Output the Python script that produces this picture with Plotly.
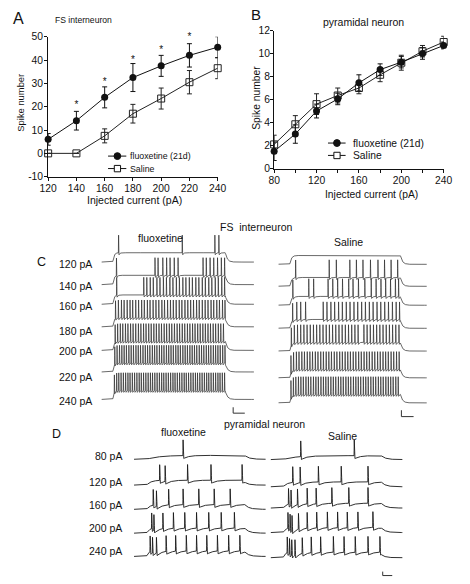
import numpy as np
import plotly.graph_objects as go

# ---------------- data: panel A (FS interneuron) ----------------
a_current = [120, 140, 160, 180, 200, 220, 240]
a_fluox = [6.0, 14.0, 24.0, 32.5, 37.5, 42.0, 45.5]
a_fluox_err = [2.5, 4.0, 4.5, 6.0, 4.5, 5.0, 4.5]
a_saline = [0.0, 0.0, 7.5, 17.0, 23.5, 30.5, 36.5]
a_saline_err = [0.0, 0.0, 3.0, 4.0, 4.5, 5.0, 4.5]
a_star_x = [140, 160, 180, 200, 220]
a_star_y = [20.6, 30.2, 40.0, 44.2, 49.6]

# ---------------- data: panel B (pyramidal neuron) ----------------
b_current = [80, 100, 120, 140, 160, 180, 200, 220, 240]
b_fluox = [1.5, 3.0, 5.0, 6.05, 7.45, 8.6, 9.25, 10.0, 10.7]
b_fluox_err = [0.8, 0.8, 0.6, 0.5, 0.7, 0.5, 0.5, 0.5, 0.3]
b_saline = [2.1, 3.85, 5.6, 6.35, 7.0, 8.15, 9.2, 10.2, 11.0]
b_saline_err = [0.8, 0.75, 0.9, 0.65, 0.5, 0.6, 0.65, 0.5, 0.5]

# ---------------- data: panel C spike times (ms) ----------------
c_labels = ["120 pA", "140 pA", "160 pA", "180 pA", "200 pA", "220 pA", "240 pA"]
c_fluox_spikes = [
    [90, 424, 595, 616],
    [79, 281, 297, 322, 342, 360, 382, 402, 533, 550, 570, 589, 609, 629, 646],
    [80, 222, 238, 256, 272, 291, 307, 325, 341, 359, 375, 393, 409, 427, 443, 461, 477, 495,
     511, 529, 545, 563, 579, 597, 613, 631, 646],
    [74, 89, 105, 119, 135, 150, 164, 180, 195, 211, 225, 241, 255, 271, 286, 301, 317, 331, 347,
     362, 377, 392, 408, 422, 438, 453, 468, 483, 499, 513, 529, 544, 559, 575, 589, 605, 619, 635, 648],
    [72, 85, 99, 112, 126, 139, 153, 166, 180, 194, 207, 221, 234, 248, 261, 275, 288, 302, 315, 329,
     342, 356, 369, 383, 397, 410, 424, 437, 451, 464, 478, 491, 505, 518, 532, 545, 559, 572, 586, 599,
     613, 626, 640],
    [70, 82, 95, 107, 119, 131, 144, 156, 168, 181, 193, 205, 218, 230, 242, 254, 267, 279, 291, 304,
     316, 328, 341, 353, 365, 377, 390, 402, 414, 427, 439, 451, 464, 476, 488, 500, 513, 525, 537, 550,
     562, 574, 587, 599, 611, 623, 636, 648],
    [68, 80, 91, 103, 115, 127, 139, 150, 162, 174, 186, 198, 209, 221, 233, 245, 257, 268, 280, 292,
     304, 316, 327, 339, 351, 363, 375, 386, 398, 410, 422, 434, 445, 457, 469, 481, 493, 504, 516, 528,
     540, 552, 563, 575, 587, 599, 611, 622, 634, 646],
]
c_saline_spikes = [
    [],
    [91, 270, 308, 380, 415, 450, 490, 530, 565, 600, 635],
    [76, 161, 187, 264, 289, 315, 341, 374, 397, 426, 460, 494, 520, 546, 571, 597, 623, 640],
    [75, 97, 118, 144, 238, 258, 279, 299, 320, 340, 361, 381, 402, 422, 443, 463, 484, 504, 525, 545,
     566, 586, 607, 627, 645],
    [68, 84, 101, 118, 135, 152, 169, 186, 203, 220, 237, 254, 271, 288, 305, 322, 339, 356, 373, 390,
     407, 424, 455, 472, 489, 506, 523, 540, 557, 574, 591, 608, 625, 642],
    [66, 80, 95, 109, 124, 138, 153, 167, 181, 196, 210, 225, 239, 254, 268, 282, 297, 311, 326, 340,
     355, 369, 383, 398, 412, 427, 441, 456, 470, 484, 499, 513, 528, 542, 557, 571, 585, 600, 614, 629, 643],
    [66, 79, 92, 106, 119, 132, 146, 159, 172, 186, 199, 212, 226, 239, 252, 265, 279, 292, 305, 319,
     332, 345, 359, 372, 385, 399, 412, 425, 438, 452, 465, 478, 492, 505, 518, 532, 545, 558, 572, 585,
     598, 611, 625, 638],
]

# ---------------- data: panel D spike times (ms) ----------------
d_labels = ["80 pA", "120 pA", "160 pA", "200 pA", "240 pA"]
d_fluox_spikes = [
    [350],
    [183, 222, 382, 549, 771],
    [137, 160, 247, 350, 462, 572, 686],
    [126, 142, 206, 281, 362, 446, 533, 622, 716],
    [115, 132, 160, 229, 297, 373, 446, 519, 595, 675, 755],
]
d_saline_spikes = [
    [215, 597],
    [158, 211, 341, 504, 695],
    [128, 146, 192, 261, 325, 437, 558, 695],
    [124, 139, 153, 199, 261, 329, 405, 478, 547, 623, 730],
    [119, 135, 151, 174, 226, 290, 357, 448, 524, 604, 695, 780],
]

W, H = 470, 584


def px(x):
    return x / W


def py(y):
    return 1 - y / H


def make_trace(spikes, t0, t1, on, off, plateau, tau_on, tau_off, amp, rise, fall, ahp, tau_ahp, dt):
    extra = []
    for s in spikes:
        extra += [s - rise, s, s + fall]
    t = np.unique(np.concatenate([np.arange(t0, t1 + dt, dt), np.array(extra, dtype=float)]))
    t = t[(t >= t0) & (t <= t1)]
    v = np.zeros_like(t)
    m = (t >= on) & (t < off)
    v[m] = plateau * (1 - np.exp(-(t[m] - on) / tau_on))
    v_off = plateau * (1 - np.exp(-(off - on) / tau_on))
    m2 = t >= off
    v[m2] = v_off * np.exp(-(t[m2] - off) / tau_off)
    for s in spikes:
        d = t - s
        r = (d > -rise) & (d <= 0)
        v[r] += amp * (1 + d[r] / rise)
        f = (d > 0) & (d <= fall)
        v[f] += amp - (amp + ahp) * (d[f] / fall)
        a = d > fall
        v[a] += -ahp * np.exp(-(d[a] - fall) / tau_ahp)
    return t, v


fig = go.Figure()

# ---------------- panel A ----------------
fig.add_trace(go.Scatter(
    x=a_current, y=a_saline, mode="lines+markers", xaxis="x", yaxis="y",
    line=dict(color="#222", width=1),
    marker=dict(symbol="square-open", size=7, color="#222", line=dict(width=1)),
    error_y=dict(type="data", array=a_saline_err, color="#222", thickness=1, width=2.5),
    cliponaxis=False, showlegend=False))
fig.add_trace(go.Scatter(
    x=a_current, y=a_fluox, mode="lines+markers", xaxis="x", yaxis="y",
    line=dict(color="#111", width=1),
    marker=dict(symbol="circle", size=7, color="#111"),
    error_y=dict(type="data", array=a_fluox_err, color="#111", thickness=1, width=2.5),
    cliponaxis=False, showlegend=False))
fig.add_trace(go.Scatter(
    x=a_star_x, y=a_star_y, mode="text", text=["*"] * len(a_star_x), xaxis="x", yaxis="y",
    textfont=dict(family="Liberation Sans, Arial", size=10, color="#111"),
    textposition="middle center", cliponaxis=False, showlegend=False))

# ---------------- panel B ----------------
fig.add_trace(go.Scatter(
    x=b_current, y=b_saline, mode="lines+markers", xaxis="x2", yaxis="y2",
    line=dict(color="#222", width=1),
    marker=dict(symbol="square-open", size=7, color="#222", line=dict(width=1)),
    error_y=dict(type="data", array=b_saline_err, color="#222", thickness=1, width=2.5),
    cliponaxis=False, showlegend=False))
fig.add_trace(go.Scatter(
    x=b_current, y=b_fluox, mode="lines+markers", xaxis="x2", yaxis="y2",
    line=dict(color="#111", width=1),
    marker=dict(symbol="circle", size=7, color="#111"),
    error_y=dict(type="data", array=b_fluox_err, color="#111", thickness=1, width=2.5),
    cliponaxis=False, showlegend=False))

# ---------------- panel C traces ----------------
c_fl_base = [262, 285, 305, 328, 352, 374, 402]
c_sa_base = [264.3, 286.7, 306, 329.5, 352.7, 380, 405.5]
for i, sp in enumerate(c_fluox_spikes):
    t, v = make_trace(sp, 0, 800, 60, 650, 9.5, 6, 10, 18, 1.0, 2.0, 2.0, 5, 0.5)
    fig.add_trace(go.Scatter(x=t, y=v - c_fl_base[i], mode="lines", xaxis="x3", yaxis="y3",
                             line=dict(color="#2a2a2a", width=0.7), showlegend=False, hoverinfo="skip"))
for i, sp in enumerate(c_saline_spikes):
    t, v = make_trace(sp, -15, 790, 60, 650, 9.0, 8, 10, 18, 1.0, 2.0, 2.0, 6, 0.5)
    fig.add_trace(go.Scatter(x=t, y=v - c_sa_base[i], mode="lines", xaxis="x4", yaxis="y4",
                             line=dict(color="#2a2a2a", width=0.7), showlegend=False, hoverinfo="skip"))

# ---------------- panel D traces ----------------
d_fl_base = [463, 489.3, 514, 538.3, 562]
d_sa_base = [463.3, 491, 512.7, 537.7, 563.3]
d_plateau = [4.0, 5.0, 5.0, 5.5, 6.0]
d_tau_on = [90, 30, 25, 20, 15]
for i, sp in enumerate(d_fluox_spikes):
    t, v = make_trace(sp, 0, 940, 90, 790, d_plateau[i], d_tau_on[i], 30, 16, 1.5, 5.0, 3.0, 35, 1.0)
    fig.add_trace(go.Scatter(x=t, y=v - d_fl_base[i], mode="lines", xaxis="x5", yaxis="y5",
                             line=dict(color="#1a1a1a", width=0.9), showlegend=False, hoverinfo="skip"))
for i, sp in enumerate(d_saline_spikes):
    t, v = make_trace(sp, 0, 960, 90, 790, d_plateau[i], d_tau_on[i], 30, 16, 1.5, 5.0, 3.0, 35, 1.0)
    fig.add_trace(go.Scatter(x=t, y=v - d_sa_base[i], mode="lines", xaxis="x6", yaxis="y6",
                             line=dict(color="#1a1a1a", width=0.9), showlegend=False, hoverinfo="skip"))

FONT = "Liberation Sans, Arial, sans-serif"
tickfont = dict(family=FONT, size=10.3, color="#111")


def lin_axis(**kw):
    base = dict(showline=True, linecolor="#111", linewidth=1, ticks="outside", ticklen=3.5,
                tickwidth=1, tickcolor="#111", showgrid=False, zeroline=False, tickfont=tickfont,
                fixedrange=True)
    base.update(kw)
    return base


def hidden(**kw):
    base = dict(visible=False, showgrid=False, zeroline=False, fixedrange=True)
    base.update(kw)
    return base


fig.update_layout(
    width=W, height=H, margin=dict(l=0, r=0, t=0, b=0),
    paper_bgcolor="white", plot_bgcolor="rgba(0,0,0,0)",
    font=dict(family=FONT, color="#111"),
    hovermode=False,
    xaxis=lin_axis(domain=[px(40.7), px(217)], range=[120, 240], anchor="y",
                   tickvals=[120, 140, 160, 180, 200, 220, 240], ticklabelstandoff=-2),
    yaxis=lin_axis(domain=[py(175), py(32.3)], range=[-10, 50], anchor="x",
                   tickvals=[-10, 0, 10, 20, 30, 40, 50], ticklen=3, ticklabelstandoff=-1,
                   ticktext=["-10", "0", "10", "20", "30", "40", "50"]),
    xaxis2=lin_axis(domain=[px(275.7), px(452)], range=[80, 240], anchor="y2",
                    tickvals=[80, 100, 120, 140, 160, 180, 200, 220, 240],
                    ticktext=["80", "", "120", "", "160", "", "200", "", "240"], ticklabelstandoff=-1),
    yaxis2=lin_axis(domain=[py(166.7), py(26)], range=[0, 12], anchor="x2", ticklen=3,
                    ticklabelstandoff=-2, tickvals=[0, 2, 4, 6, 8, 10, 12]),
    xaxis3=hidden(domain=[px(96.1), px(254.7)], range=[0, 800], anchor="y3"),
    yaxis3=hidden(domain=[py(425), py(215)], range=[-425, -215], anchor="x3"),
    xaxis4=hidden(domain=[px(280.3), px(436.3)], range=[0, 800], anchor="y4"),
    yaxis4=hidden(domain=[py(425), py(215)], range=[-425, -215], anchor="x4"),
    xaxis5=hidden(domain=[px(130), px(267)], range=[0, 940], anchor="y5"),
    yaxis5=hidden(domain=[py(584), py(430)], range=[-584, -430], anchor="x5"),
    xaxis6=hidden(domain=[px(272), px(409)], range=[0, 940], anchor="y6"),
    yaxis6=hidden(domain=[py(584), py(430)], range=[-584, -430], anchor="x6"),
)

anns = []


def ann(text, x, y, size=10.5, xanchor="center", angle=0):
    anns.append(dict(text=text, x=px(x), y=py(y), xref="paper", yref="paper", showarrow=False,
                     xanchor=xanchor, yanchor="middle", textangle=angle,
                     font=dict(family=FONT, size=size, color="#111")))


# panel letters and titles
ann("A", 10, 14, 16)
ann("FS interneuron", 77, 15, 8.6)
ann("Spike number", 12, 100, 9.4, angle=-90)
ann("Injected current (pA)", 130, 198.8, 10.5)
ann("B", 257, 10, 15)
ann("pyramidal neuron", 369, 17.5, 10.5)
ann("Spike number", 257.5, 95, 10.3, angle=-90)
ann("Injected current (pA)", 377, 193, 10.3)
# legends text
ann("fluoxetine (21d)", 123.5, 154, 8.8, xanchor="left")
ann("Saline", 123.5, 166.7, 8.8, xanchor="left")
ann("fluoxetine (21d)", 355.5, 140.7, 10.3, xanchor="left")
ann("Saline", 355.5, 153.3, 10.3, xanchor="left")

# panel C text
ann("FS  interneuron", 257.5, 226)
ann("fluoxetine", 157.5, 237)
ann("Saline", 353, 242)
ann("C", 34, 262, 12.5)
c_label_y = [264, 286.7, 307, 332.3, 352.7, 379, 404]
for lab, yy in zip(c_labels, c_label_y):
    ann(lab, 88.5, yy, 10.5, xanchor="right")

# panel D text
ann("D", 49, 437, 12.5)
ann("pyramidal neuron", 266, 426.7)
ann("fluoxetine", 181, 435)
ann("Saline", 347, 439.3)
d_label_y = [459.3, 486, 509.3, 532.7, 556.7]
for lab, yy in zip(d_labels, d_label_y):
    ann(lab, 120, yy, 10.5, xanchor="right")

fig.update_layout(annotations=anns)

shapes = []
blk = dict(color="#111", width=1)
# legend glyphs A
shapes.append(dict(type="line", xref="paper", yref="paper", x0=px(103), x1=px(122), y0=py(154), y1=py(154), line=blk))
shapes.append(dict(type="circle", xref="paper", yref="paper", x0=px(109.2), x1=px(116.2), y0=py(157.5), y1=py(150.5),
                   fillcolor="#111", line=blk))
shapes.append(dict(type="line", xref="paper", yref="paper", x0=px(103), x1=px(122), y0=py(166.7), y1=py(166.7), line=blk))
shapes.append(dict(type="rect", xref="paper", yref="paper", x0=px(109.5), x1=px(116), y0=py(170), y1=py(163.5),
                   fillcolor="white", line=blk))
# legend glyphs B
shapes.append(dict(type="line", xref="paper", yref="paper", x0=px(331.7), x1=px(350), y0=py(140.7), y1=py(140.7), line=blk))
shapes.append(dict(type="circle", xref="paper", yref="paper", x0=px(337.5), x1=px(344.5), y0=py(144.2), y1=py(137.2),
                   fillcolor="#111", line=blk))
shapes.append(dict(type="line", xref="paper", yref="paper", x0=px(331.7), x1=px(350), y0=py(153.3), y1=py(153.3), line=blk))
shapes.append(dict(type="rect", xref="paper", yref="paper", x0=px(337.8), x1=px(344.3), y0=py(156.6), y1=py(150.1),
                   fillcolor="white", line=blk))
# scale bars (in trace axis units)
sb = dict(color="#333", width=1)
shapes.append(dict(type="path", xref="x3", yref="y3", path="M 691,-410 L 691,-416 L 752,-416", line=sb))
shapes.append(dict(type="path", xref="x4", yref="y4", path="M 655,-413 L 655,-419.5 L 720,-419.5", line=sb))
shapes.append(dict(type="path", xref="x6", yref="y6", path="M 800,-577.5 L 800,-581.5 L 868,-581.5", line=sb))
fig.update_layout(shapes=shapes)

fig.write_html("out.html", config={"displayModeBar": False, "staticPlot": True},
               post_script="document.body.style.margin='0px';")
